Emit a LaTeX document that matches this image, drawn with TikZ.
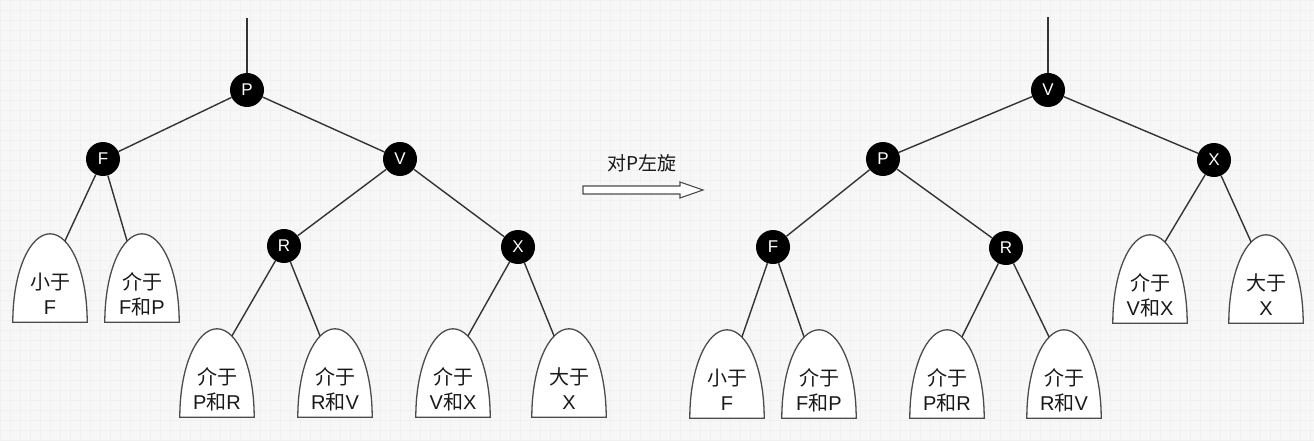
\documentclass[tikz,border=0pt]{standalone}
\usepackage{fontspec}
\setmainfont{Liberation Sans}
\newfontfamily\cjk{Noto Sans CJK SC}
\usetikzlibrary{calc}
\tikzset{
 rb/.style={circle, fill=black, minimum size=34pt, inner sep=0pt, text=white, font=\fontsize{17}{17}\selectfont},
 edge/.style={draw=black!80, line width=1.4pt},
 domebox/.style={minimum width=74pt, minimum height=88pt, inner sep=0pt},
 domeline/.style={draw=black!70, fill=white, line width=1.3pt},
 dometext/.style={align=center, font=\fontsize{20}{25}\selectfont, text=black!90, inner sep=0pt},
 gridline/.style={draw=black!6, line width=0.5pt},
}
\newcommand\mydome[5]{%
 \node[domebox] (#1) at (#2,#3+44) {};
 \path[domeline] (#1.south west) .. controls ($(#1.south west)+(0,-51)$) and ($(#1.north)+(-20,0)$) .. (#1.north) .. controls ($(#1.north)+(20,0)$) and ($(#1.south east)+(0,-51)$) .. (#1.south east) -- cycle;
 \node[dometext] (#1-t) at ($(#1.center)+(0,16)$) {#4\\#5};
 \coordinate (#1-l) at ($(#1.north)+(-15,7)$);
 \coordinate (#1-r) at ($(#1.north)+(15,7)$);
}
\begin{document}
\begin{tikzpicture}[x=1pt,y=-1pt]
\useasboundingbox (0,0) rectangle (1314,441);
\fill[white!97!black] (0,0) rectangle (1314,441);
\foreach \i in {0,10,...,1310} \path[gridline] (\i,0) -- (\i,441);
\foreach \j in {0,10,...,440} \path[gridline] (0,\j) -- (1314,\j);

% left tree nodes
\node[rb] (P1) at (247,90) {P};
\node[rb] (F1) at (103,159) {F};
\node[rb] (V1) at (400,159) {V};
\node[rb] (R1) at (284,246) {R};
\node[rb] (X1) at (518,247) {X};
\coordinate (top1) at (247,18);

% right tree nodes
\node[rb] (V2) at (1048,90) {V};
\node[rb] (P2) at (883,159) {P};
\node[rb] (X2) at (1214,160) {X};
\node[rb] (F2) at (773,247) {F};
\node[rb] (R2) at (1006,248) {R};
\coordinate (top2) at (1048,17);

% left domes
\mydome{a1}{50}{234}{{\cjk 小于}}{F}
\mydome{a2}{142}{234}{{\cjk 介于}}{F{\cjk 和}P}
\mydome{a3}{217}{329}{{\cjk 介于}}{P{\cjk 和}R}
\mydome{a4}{335}{329}{{\cjk 介于}}{R{\cjk 和}V}
\mydome{a5}{453}{329}{{\cjk 介于}}{V{\cjk 和}X}
\mydome{a6}{569}{329}{{\cjk 大于}}{X}

% right domes
\mydome{b1}{727}{330}{{\cjk 小于}}{F}
\mydome{b2}{819}{330}{{\cjk 介于}}{F{\cjk 和}P}
\mydome{b3}{947}{330}{{\cjk 介于}}{P{\cjk 和}R}
\mydome{b4}{1064}{330}{{\cjk 介于}}{R{\cjk 和}V}
\mydome{b5}{1150}{235}{{\cjk 介于}}{V{\cjk 和}X}
\mydome{b6}{1266}{235}{{\cjk 大于}}{X}

% left edges
\path[edge] (top1) -- (P1);
\path[edge] (P1) -- (F1);
\path[edge] (P1) -- (V1);
\path[edge] (V1) -- (R1);
\path[edge] (V1) -- (X1);
\path[edge] (F1) -- (a1-r);
\path[edge] (F1) -- (a2-l);
\path[edge] (R1) -- (a3-r);
\path[edge] (R1) -- (a4-l);
\path[edge] (X1) -- (a5-r);
\path[edge] (X1) -- (a6-l);

% right edges
\path[edge] (top2) -- (V2);
\path[edge] (V2) -- (P2);
\path[edge] (V2) -- (X2);
\path[edge] (P2) -- (F2);
\path[edge] (P2) -- (R2);
\path[edge] (F2) -- (b1-r);
\path[edge] (F2) -- (b2-l);
\path[edge] (R2) -- (b3-r);
\path[edge] (R2) -- (b4-l);
\path[edge] (X2) -- (b5-r);
\path[edge] (X2) -- (b6-l);

% rotation arrow
\node[font=\fontsize{19}{19}\selectfont\cjk, text=black!90] (lbl) at (642,163) {对P左旋};
\path[domeline, line width=1.1pt] (583,186) -- (680,186) -- (680,182) -- (703,190) -- (680,198) -- (680,194) -- (583,194) -- cycle;
\end{tikzpicture}
\end{document}
